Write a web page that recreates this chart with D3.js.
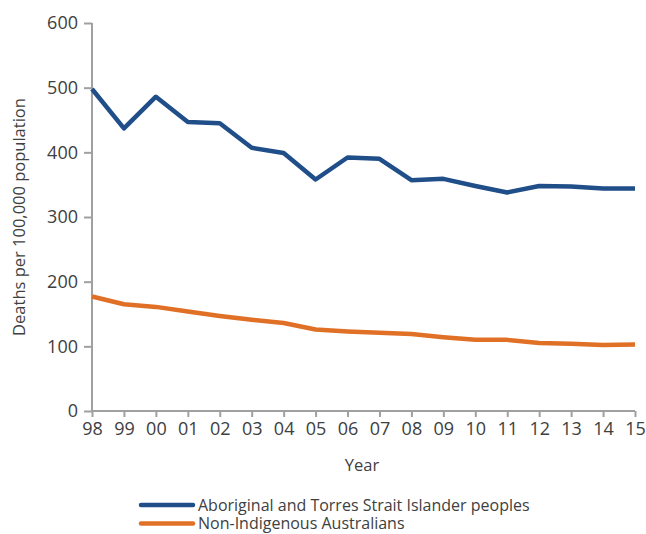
<!DOCTYPE html>
<html><head><meta charset="utf-8">
<script src="https://cdn.jsdelivr.net/npm/d3@7"></script>
<style>body{margin:0;background:#fff}svg{display:block}text{font-family:"Open Sans",sans-serif;fill:#404040}</style>
</head><body><svg id="c" width="646" height="534"></svg>
<script>
const years = ["98","99","00","01","02","03","04","05","06","07","08","09","10","11","12","13","14","15"];
const indigenous = [498,437,486,447,445,407,399,358,392,390,357,359,348,338,348,347,344,344];
const nonIndigenous = [177,165,161,154,147,141,136,126,123,121,119,114,110,110,105,104,102,103];
const yTicks = [0,100,200,300,400,500,600];
const seriesNames = ["Aboriginal and Torres Strait Islander peoples","Non-Indigenous Australians"];
const colors = ["#1f4e89","#e07026"];

const svg = d3.select("#c");
const x = d3.scalePoint().domain(years).range([92,635]);
const y = d3.scaleLinear().domain([0,600]).range([411,23]);
const axisColor = "#a0a0a0";

const gy = svg.append("g").attr("transform","translate(92,0)")
  .call(d3.axisLeft(y).tickValues(yTicks).tickSize(8).tickPadding(6));
const gx = svg.append("g").attr("transform","translate(0,411)")
  .call(d3.axisBottom(x).tickSize(6).tickPadding(5));
[gy,gx].forEach(g=>{
  g.selectAll("path,line").attr("stroke",axisColor).attr("stroke-width",2);
  g.selectAll("text").attr("font-size",18).attr("fill","#404040").style("font-family",'"Open Sans",sans-serif');
});
gx.select(".domain").attr("d","M92,0H635");
gy.select(".domain").attr("d","M0,411V23");

const line = d3.line().x((d,i)=>x(years[i])).y(d=>y(d));
[indigenous,nonIndigenous].forEach((s,k)=>{
  svg.append("path").datum(s).attr("d",line).attr("fill","none")
    .attr("stroke",colors[k]).attr("stroke-width",4.5).attr("stroke-linejoin","round");
});

svg.append("text").attr("transform","translate(25,217) rotate(-90)")
  .attr("text-anchor","middle").attr("font-size",16.5).text("Deaths per 100,000 population");
svg.append("text").attr("x",362).attr("y",471).attr("text-anchor","middle").attr("font-size",16.5).text("Year");

seriesNames.forEach((n,k)=>{
  const yy = 505 + k*18.5;
  svg.append("line").attr("x1",141).attr("x2",193).attr("y1",yy).attr("y2",yy)
    .attr("stroke",colors[k]).attr("stroke-width",4.5).attr("stroke-linecap","round");
  svg.append("text").attr("x",198).attr("y",yy+5.5).attr("font-size",16).text(n);
});
</script></body></html>
